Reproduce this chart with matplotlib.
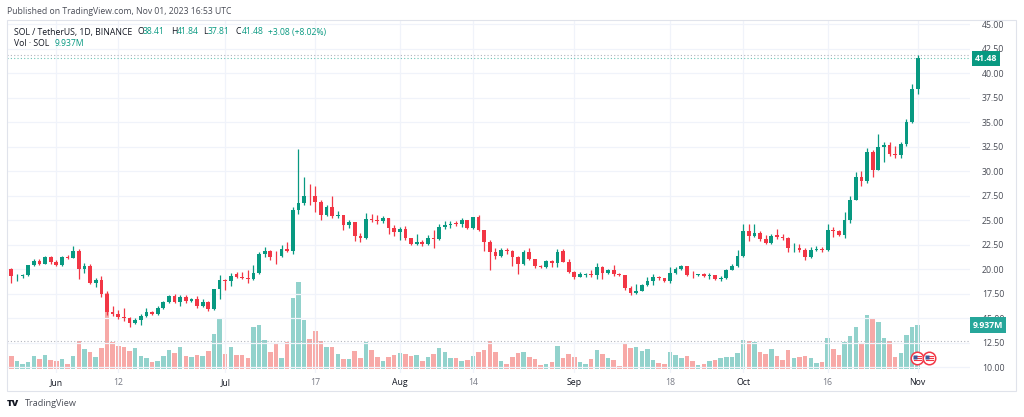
import numpy as np
import matplotlib
matplotlib.use("Agg")
import matplotlib.pyplot as plt
import matplotlib.transforms as mtransforms
from matplotlib.patches import Rectangle
from matplotlib.lines import Line2D

plt.rcParams['font.family'] = ['Open Sans', 'DejaVu Sans']

# ---------------- data (SOL / TetherUS, 1D, BINANCE) ----------------
start_date = '2023-05-24'

opens = [20.02, 19.24, 19.3, 19.37, 20.4, 20.8, 20.55, 21.25, 20.75, 20.4,
         21.25, 21.15, 21.8, 19.95, 20.35, 18.55, 18.9, 17.4, 15.6, 15.45,
         15.1, 15.0, 14.45, 14.75, 15.25, 15.6, 15.45, 16.05, 16.6, 17.2,
         16.6, 17.1, 16.75, 16.95, 16.2, 16.6, 15.9, 17.95, 18.85, 18.75,
         19.45, 19.2, 19.05, 18.95, 19.6, 21.5, 21.8, 21.35, 21.3, 22.05,
         21.85, 26.0, 26.7, 27.5, 27.4, 26.8, 25.55, 26.3, 25.4, 25.5,
         24.5, 24.75, 23.35, 23.2, 25.15, 25.0, 24.85, 25.2, 24.2, 23.75,
         24.1, 23.15, 22.55, 22.8, 22.6, 23.2, 23.1, 24.25, 24.45, 24.7,
         24.55, 24.95, 24.2, 25.3, 23.95, 22.8, 21.7, 21.3, 21.9, 21.8,
         21.2, 20.5, 21.75, 21.0, 20.35, 20.2, 20.8, 20.6, 21.8, 20.75,
         19.7, 19.2, 19.4, 19.5, 19.4, 20.25, 19.6, 19.9, 19.5, 19.35,
         18.1, 17.6, 17.8, 18.35, 18.8, 19.15, 19.05, 18.75, 19.6, 20.0,
         20.3, 19.4, 19.35, 19.45, 19.3, 19.35, 18.95, 19.1, 19.9, 20.3,
         21.35, 23.9, 23.4, 23.65, 23.1, 22.7, 23.45, 23.3, 23.15, 22.1,
         22.15, 21.95, 21.25, 21.9, 22.0, 21.9, 23.95, 23.9, 23.45, 24.95,
         27.05, 29.35, 29.0, 31.9, 30.15, 32.45, 32.7, 31.7, 31.6, 32.8,
         34.95, 38.41]
highs = [20.15, 19.5, 19.5, 20.45, 21.0, 21.0, 21.3, 21.35, 20.9, 21.3,
         21.4, 22.3, 22.0, 20.65, 20.5, 19.1, 19.3, 17.8, 16.2, 15.8,
         16.0, 15.1, 15.05, 15.4, 16.0, 15.75, 16.2, 16.75, 17.35, 17.45,
         17.3, 17.3, 17.05, 17.2, 16.9, 16.7, 18.0, 19.4, 18.95, 19.55,
         19.7, 19.65, 19.9, 20.4, 21.75, 22.2, 21.9, 21.8, 22.4, 22.8,
         26.3, 32.2, 29.4, 28.7, 28.5, 27.0, 26.55, 27.5, 25.9, 25.55,
         25.0, 24.8, 23.65, 25.7, 25.6, 25.5, 25.4, 25.25, 24.5, 24.25,
         24.35, 23.2, 23.6, 23.0, 23.5, 24.0, 24.6, 24.85, 24.9, 24.85,
         25.2, 25.0, 25.35, 25.55, 24.0, 23.0, 22.15, 22.1, 22.1, 21.95,
         21.3, 21.9, 22.1, 21.05, 20.4, 20.95, 20.95, 22.0, 22.0, 21.0,
         19.75, 19.65, 19.6, 19.9, 20.6, 20.3, 20.0, 20.4, 19.55, 19.4,
         18.3, 18.5, 18.5, 19.2, 19.5, 19.3, 19.1, 20.2, 20.2, 20.4,
         20.35, 19.75, 19.5, 19.6, 19.55, 19.4, 19.3, 19.95, 20.5, 21.9,
         24.6, 24.6, 24.6, 23.85, 23.5, 23.6, 24.1, 23.6, 23.3, 22.7,
         22.6, 22.1, 22.2, 22.3, 22.2, 24.6, 24.3, 24.0, 25.8, 27.5,
         29.9, 30.0, 32.3, 32.1, 33.75, 33.0, 33.0, 32.6, 33.0, 35.3,
         38.9, 41.84]
lows = [18.6, 18.8, 19.1, 19.25, 20.3, 20.4, 20.5, 20.5, 20.3, 20.35,
        21.0, 21.1, 19.0, 19.6, 18.45, 18.2, 17.1, 15.3, 15.2, 14.9,
        14.7, 14.1, 14.35, 14.3, 15.1, 15.3, 15.3, 15.9, 16.5, 16.55,
        16.2, 16.5, 16.6, 16.0, 16.1, 15.75, 15.85, 16.9, 17.9, 18.3,
        19.1, 19.0, 18.6, 18.85, 19.5, 21.2, 20.9, 20.5, 21.2, 21.7,
        21.5, 25.6, 26.5, 26.5, 25.8, 25.0, 25.4, 25.2, 25.2, 24.0,
        24.2, 22.85, 22.8, 23.1, 24.8, 24.55, 24.7, 23.6, 23.4, 23.0,
        22.95, 22.5, 22.5, 22.3, 22.5, 22.1, 23.0, 24.1, 24.2, 24.4,
        24.3, 24.1, 24.1, 23.9, 21.8, 19.9, 21.0, 21.2, 21.5, 20.3,
        19.5, 20.4, 20.9, 20.1, 20.1, 20.15, 20.2, 20.2, 20.7, 19.6,
        19.0, 19.15, 19.2, 19.2, 19.0, 19.0, 19.5, 19.3, 19.3, 17.85,
        17.3, 17.5, 17.75, 18.25, 18.4, 18.9, 18.7, 18.6, 19.5, 19.9,
        19.3, 19.1, 19.3, 19.2, 19.0, 18.85, 18.8, 18.95, 19.85, 20.2,
        21.2, 22.9, 23.3, 22.9, 22.6, 22.6, 23.1, 23.0, 21.7, 21.7,
        21.7, 20.9, 21.1, 21.8, 21.7, 21.85, 23.3, 23.4, 23.2, 24.7,
        27.0, 28.5, 28.8, 29.4, 30.1, 30.9, 31.5, 31.3, 31.3, 32.6,
        34.9, 37.81]
closes = [19.24, 19.3, 19.37, 20.4, 20.8, 20.55, 21.25, 20.75, 20.4, 21.25,
          21.15, 21.8, 19.95, 20.35, 18.55, 18.9, 17.4, 15.6, 15.45, 15.1,
          15.0, 14.45, 14.75, 15.25, 15.6, 15.45, 16.05, 16.6, 17.2, 16.6,
          17.1, 16.75, 16.95, 16.2, 16.6, 15.9, 17.95, 18.85, 18.75, 19.3,
          19.2, 19.05, 18.95, 19.6, 21.5, 21.8, 21.25, 21.3, 22.05, 21.85,
          26.0, 26.7, 27.5, 27.4, 26.8, 25.55, 26.3, 25.4, 25.5, 24.5,
          24.75, 23.35, 23.2, 25.15, 25.0, 24.85, 25.2, 24.2, 23.75, 24.1,
          23.15, 22.55, 22.8, 22.6, 23.2, 23.1, 24.25, 24.45, 24.6, 24.55,
          24.95, 24.2, 25.3, 23.95, 22.8, 21.7, 21.3, 21.9, 21.8, 21.2,
          20.5, 21.75, 21.0, 20.3, 20.2, 20.8, 20.6, 21.75, 20.75, 19.7,
          19.2, 19.5, 19.5, 19.4, 20.25, 19.6, 19.9, 19.5, 19.35, 18.1,
          17.6, 17.8, 18.35, 18.8, 19.15, 19.05, 18.75, 19.6, 20.0, 20.3,
          19.4, 19.35, 19.45, 19.3, 19.35, 18.95, 19.1, 19.9, 20.3, 21.35,
          23.9, 23.4, 23.65, 23.1, 22.7, 23.4, 23.25, 23.15, 22.1, 22.15,
          21.95, 21.25, 21.9, 22.0, 21.9, 23.95, 23.9, 23.45, 24.95, 27.05,
          29.35, 29.0, 31.9, 30.15, 32.45, 32.7, 31.7, 31.6, 32.8, 34.95,
          38.41, 41.48]
volumes_m = [2.99, 1.79, 1.20, 1.64, 3.07, 2.32, 3.29, 2.09, 1.79, 2.24,
             1.27, 2.92, 6.28, 4.56, 3.96, 2.77, 4.86, 17.1, 6.13, 5.31,
             4.93, 4.11, 4.79, 2.92, 2.62, 1.72, 1.94, 2.99, 4.26, 3.59,
             4.93, 2.99, 2.77, 3.14, 3.07, 4.11, 8.0, 11.5, 3.51, 4.93,
             3.22, 3.22, 2.47, 9.57, 9.87, 6.50, 3.96, 5.68, 2.54, 6.13,
             16.0, 19.5, 11.0, 6.73, 8.6, 6.36, 4.93, 4.93, 3.51, 2.39,
             2.39, 4.11, 2.54, 6.13, 4.26, 2.69, 1.79, 2.84, 3.29, 3.66,
             3.36, 2.99, 3.29, 1.79, 2.69, 3.44, 4.71, 3.96, 2.62, 2.47,
             1.94, 2.09, 2.99, 3.96, 4.34, 6.32, 3.96, 1.79, 1.20, 2.77,
             3.66, 3.81, 2.77, 2.24, 0.90, 1.20, 1.64, 5.31, 2.47, 3.36,
             2.69, 1.57, 1.12, 2.32, 4.26, 3.51, 2.54, 2.02, 0.75, 5.68,
             4.86, 4.93, 4.11, 4.49, 2.17, 1.50, 1.12, 3.81, 3.14, 2.62,
             3.07, 1.87, 0.97, 1.20, 1.79, 2.09, 2.47, 2.84, 2.84, 3.70,
             6.58, 6.36, 6.06, 3.96, 3.44, 4.49, 3.07, 2.09, 4.26, 2.47,
             2.77, 3.07, 2.47, 1.50, 1.57, 7.10, 4.56, 3.14, 6.06, 7.48,
             9.57, 5.61, 12.19, 11.2, 10.7, 7.10, 6.36, 2.69, 3.59, 7.78,
             9.42, 9.937]

tick_dates = ['2023-06-01', '2023-06-12', '2023-07-01', '2023-07-17', '2023-08-01',
              '2023-08-14', '2023-09-01', '2023-09-18', '2023-10-01', '2023-10-16',
              '2023-11-01']
tick_labels = ['Jun', '12', 'Jul', '17', 'Aug', '14', 'Sep', '18', 'Oct', '16', 'Nov']
tick_is_month = [True, False, True, False, True, False, True, False, True, False, True]
price_ticks = [10.0, 12.5, 15.0, 17.5, 20.0, 22.5, 25.0, 27.5, 30.0, 32.5,
               35.0, 37.5, 40.0, 42.5, 45.0]
last_price = 41.48
last_volume_label = '9.937M'
high_ref_line = 41.84
volume_ref_line = 6.35

# ---------------- styling ----------------
UP = '#089981'
DOWN = '#f23645'
VUP = '#92d2cc'
VDOWN = '#f7a9a7'
GRID = '#f0f3fa'
TXT = '#131722'
GREY = '#787b86'

W, H = 1024, 417
fig = plt.figure(figsize=(W / 100, H / 100), dpi=100)
fig.patch.set_facecolor('white')
renderer = fig.canvas.get_renderer()

def fx(px):
    return px / W

def fy(py):
    return 1 - py / H

def fit_text(px, py, s, target_w, fs=6.6, **kw):
    t = fig.text(fx(px), fy(py), s, fontsize=fs, va='center', ha='left', **kw)
    w = t.get_window_extent(renderer).width
    t.set_fontsize(fs * target_w / w)
    return t

left_px, right_px, top_px, bot_px = 7, 970, 20, 373
ax_vol = fig.add_axes([fx(left_px), fy(bot_px), fx(right_px - left_px), (bot_px - top_px) / H])
ax = ax_vol.twinx()
ax.set_zorder(ax_vol.get_zorder() + 1)
ax.patch.set_visible(False)

n = len(closes)
start = np.datetime64(start_date)
x = np.arange(n)
o = np.array(opens); h = np.array(highs); l = np.array(lows); c = np.array(closes)
v = np.array(volumes_m)
up = c >= o

# volume bars
ax_vol.bar(x, v, width=0.8, color=np.where(up, VUP, VDOWN), linewidth=0, zorder=1)
ax_vol.axhline(volume_ref_line, color='#b2b5be', lw=0.8, ls=(0, (1, 2)), zorder=2)

# candles
cols = np.where(up, UP, DOWN)
ax.vlines(x, l, h, colors=cols, lw=0.9, zorder=3)
body_h = np.where(np.abs(c - o) < 0.05, 0.05, np.abs(c - o))
ax.bar(x, body_h, bottom=np.minimum(o, c), width=0.66, color=cols, linewidth=0, zorder=4)

# grid
for p in price_ticks:
    ax.axhline(p, color=GRID, lw=0.9, zorder=0)
tick_pos = [int((np.datetime64(d) - start).astype(int)) for d in tick_dates]
for t in tick_pos:
    ax.axvline(t, color=GRID, lw=0.9, zorder=0)

# price lines
ax.axhline(high_ref_line, color='#b2b5be', lw=0.8, ls=(0, (1, 2)), zorder=2)
ax.axhline(last_price, color=UP, lw=0.8, ls=(0, (1, 2)), alpha=0.6, zorder=2)

# limits (pixel-matched)
px_per_unit = 9.8
ax.set_ylim(45 - (bot_px - 24) / px_per_unit, 45 + (24 - top_px) / px_per_unit)
vol_per_px = 9.937 / 44.3
vol_base_px = 369.3
ax_vol.set_ylim(-(bot_px - vol_base_px) * vol_per_px, (vol_base_px - top_px) * vol_per_px)
px_per_day = 5.63
first_px = 11.3
ax_vol.set_xlim((left_px - first_px) / px_per_day, (right_px - first_px) / px_per_day)

for a in (ax, ax_vol):
    for s in a.spines.values():
        s.set_visible(False)
ax_vol.set_yticks([])
ax_vol.set_xticks(tick_pos)
ax_vol.set_xticklabels(tick_labels)
ax_vol.tick_params(axis='x', length=0, pad=3.5, labelsize=6.3)
for lab, is_m in zip(ax_vol.get_xticklabels(), tick_is_month):
    lab.set_color(TXT if is_m else GREY)

ax.set_yticks(price_ticks)
ax.set_yticklabels([f'{p:.2f}' for p in price_ticks])
ax.tick_params(axis='y', length=0, pad=8.5, labelsize=6.3, labelcolor='#4a4d57')

# price tags
trans_p = mtransforms.blended_transform_factory(ax.transAxes, ax.transData)
ax.text(1.0 + 5 / (right_px - left_px), last_price, f'{last_price:.2f}', transform=trans_p,
        fontsize=6.3, color='white', fontweight='bold', va='center', ha='left', zorder=10,
        bbox=dict(boxstyle='square,pad=0.35', fc=UP, ec='none'), clip_on=False)
trans_v = mtransforms.blended_transform_factory(ax_vol.transAxes, ax_vol.transData)
ax.text(1.0 + 3 / (right_px - left_px), (vol_base_px - 325) * vol_per_px, last_volume_label,
        transform=trans_v, fontsize=6.3, color='white', fontweight='bold', va='center',
        ha='left', zorder=10, bbox=dict(boxstyle='square,pad=0.35', fc='#26a69a', ec='none'),
        clip_on=False)

# economic-event icons (US flags)
for cx in (917, 929):
    cy = 358
    fig.add_artist(Line2D([fx(cx)], [fy(cy)], marker='o', ms=9, mfc='white', mec=DOWN,
                          mew=1.1, transform=fig.transFigure, zorder=20))
    for k in range(3):
        fig.add_artist(Line2D([fx(cx - 3.5), fx(cx + 3.5)], [fy(cy - 2 + 2.2 * k)] * 2,
                              color=DOWN, lw=0.8, transform=fig.transFigure, zorder=21))
    fig.add_artist(Line2D([fx(cx - 1.8)], [fy(cy - 1.2)], marker='s', ms=3, mfc='#3d5a99',
                          mec='none', transform=fig.transFigure, zorder=22))

# outer border
fig.patches.append(Rectangle((fx(7), fy(391)), fx(1016 - 7), (391 - 20) / H,
                             transform=fig.transFigure, fill=False, ec='#e0e3eb', lw=0.8))

# header
fit_text(7, 12, 'Published on TradingView.com, Nov 01, 2023 16:53 UTC', 223, color='#4a4d57')

# legend
t0 = fit_text(14, 32, 'SOL / TetherUS, 1D, BINANCE', 117, color=TXT)
fs = t0.get_fontsize()
legend_parts = [(137, 'O', TXT), (142.5, '38.41', UP), (171, 'H', TXT), (177, '41.84', UP),
                (203, 'L', TXT), (208, '37.81', UP), (236, 'C', TXT), (241.5, '41.48', UP),
                (268, '+3.08 (+8.02%)', UP)]
for px, s, col in legend_parts:
    fig.text(fx(px), fy(32), s, fontsize=fs, color=col, va='center', ha='left')
fig.text(fx(14), fy(44), 'Vol · SOL', fontsize=fs, color=TXT, va='center', ha='left')
fig.text(fx(55), fy(44), last_volume_label, fontsize=fs, color=UP, va='center', ha='left')

# TradingView footer
fig.text(fx(7), fy(404), 'TV', fontsize=6.8, color=TXT, fontweight='heavy', va='center', ha='left')
fig.text(fx(25), fy(404), 'TradingView', fontsize=6.6, color='#4a4d57', va='center', ha='left')

fig.savefig('out.png', dpi=100, facecolor='white')
